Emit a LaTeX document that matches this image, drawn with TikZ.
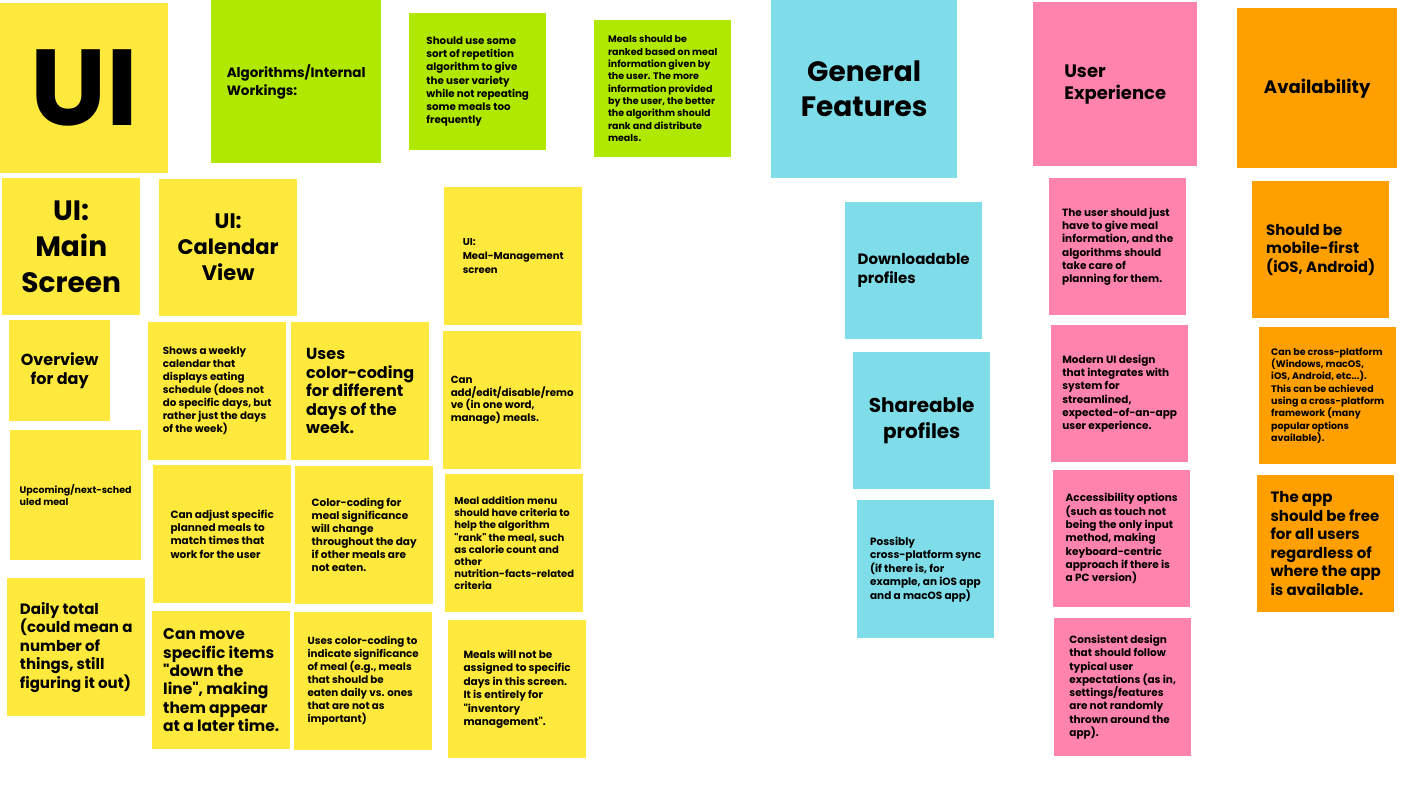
\documentclass[tikz,border=0pt]{standalone}
\usepackage{fontspec}
\setmainfont{Poppins}[Ligatures=TeXOff]
\usepackage{tikz}

\definecolor{stickyyellow}{HTML}{FFE93D}
\definecolor{stickygreen}{HTML}{B0E800}
\definecolor{stickyblue}{HTML}{7EDDE9}
\definecolor{stickypink}{HTML}{FF83AC}
\definecolor{stickyorange}{HTML}{FF9F00}

\tikzset{
  note/.style={rectangle, fill=#1, text=black, inner sep=0pt, anchor=north west, align=left},
  notesize/.style 2 args={minimum width=#1pt, minimum height=#2pt},
  txt/.style 2 args={font=\fontsize{#1}{#2}\selectfont\bfseries},
}

\begin{document}
\begin{tikzpicture}[x=1pt,y=-1pt]

  \useasboundingbox[fill=white] (0,0) rectangle (1422,800);

  % top row
  \node[note=stickyyellow, notesize={168}{170}, txt={108}{108}, align=center] (ui) at (0,3) {UI};
  \node[note=stickygreen, notesize={170}{163}, txt={13.5}{18}] (algo) at (211,0) {Algorithms/Internal\\Workings:};
  \node[note=stickygreen, notesize={137}{137}, txt={10.3}{13.2}] (algo_repeat) at (409,13) {Should use some\\sort of repetition\\algorithm to give\\the user variety\\while not repeating\\some meals too\\frequently};
  \node[note=stickygreen, notesize={137}{137}, txt={9.5}{12.3}] (algo_rank) at (594,20) {Meals should be\\ranked based on meal\\information given by\\the user. The more\\information provided\\by the user, the better\\the algorithm should\\rank and distribute\\meals.};
  \node[note=stickyblue, notesize={186}{178}, txt={28}{35}, align=center] (general) at (771,0) {General\\Features};
  \node[note=stickypink, notesize={164}{164}, txt={18}{22}] (ux) at (1033,2) {User\\Experience};
  \node[note=stickyorange, notesize={160}{160}, txt={18}{22}, align=center] (avail) at (1237,8) {Availability};

  % UI column heads
  \node[note=stickyyellow, notesize={138}{137}, txt={28}{36}, align=center] (ui_main) at (2,178) {UI:\\Main\\Screen};
  \node[note=stickyyellow, notesize={138}{137}, txt={21}{26}, align=center] (ui_cal) at (159,179) {UI:\\Calendar\\View};
  \node[note=stickyyellow, notesize={138}{138}, txt={10}{14}] (ui_meal) at (444,187) {UI:\\Meal-Management\\screen};

  % main screen
  \node[note=stickyyellow, notesize={101}{101}, txt={16}{19}, align=center] (main_overview) at (9,320) {Overview\\for day};
  \node[note=stickyyellow, notesize={131}{130}, txt={9.5}{11.5}] (main_next) at (10,430) {Upcoming/next-sched\\uled meal};
  \node[note=stickyyellow, notesize={138}{138}, txt={15}{18.5}] (main_total) at (7,578) {Daily total\\(could mean a\\number of\\things, still\\figuring it out)};

  % calendar view
  \node[note=stickyyellow, notesize={138}{138}, txt={10.3}{13}] (cal_week) at (148,322) {Shows a weekly\\calendar that\\displays eating\\schedule (does not\\do specific days, but\\rather just the days\\of the week)};
  \node[note=stickyyellow, notesize={138}{138}, txt={16}{18.5}] (cal_days) at (291,322) {Uses\\color-coding\\for different\\days of the\\week.};
  \node[note=stickyyellow, notesize={138}{138}, txt={10.5}{13.2}] (cal_adjust) at (153,465) {Can adjust specific\\planned meals to\\match times that\\work for the user};
  \node[note=stickyyellow, notesize={138}{138}, txt={10.5}{13}] (cal_signif) at (295,466) {Color-coding for\\meal significance\\will change\\throughout the day\\if other meals are\\not eaten.};
  \node[note=stickyyellow, notesize={138}{138}, txt={15.5}{18.3}] (cal_move) at (152,611) {Can move\\specific items\\"down the\\line", making\\them appear\\at a later time.};
  \node[note=stickyyellow, notesize={138}{138}, txt={10.3}{13}] (cal_colour) at (294,612) {Uses color-coding to\\indicate significance\\of meal (e.g., meals\\that should be\\eaten daily vs. ones\\that are not as\\important)};

  % meal management
  \node[note=stickyyellow, notesize={138}{138}, txt={10.3}{12.5}] (meal_manage) at (443,331) {Can\\add/edit/disable/remo\\ve (in one word,\\manage) meals.};
  \node[note=stickyyellow, notesize={138}{138}, txt={10}{12.2}] (meal_add) at (445,474) {Meal addition menu\\should have criteria to\\help the algorithm\\"rank" the meal, such\\as calorie count and\\other\\nutrition-facts-related\\criteria};
  \node[note=stickyyellow, notesize={138}{138}, txt={10.5}{13.5}] (meal_days) at (448,620) {Meals will not be\\assigned to specific\\days in this screen.\\It is entirely for\\"inventory\\management".};

  % general features
  \node[note=stickyblue, notesize={137}{137}, txt={15}{19}] (gen_download) at (845,202) {Downloadable\\profiles};
  \node[note=stickyblue, notesize={137}{137}, txt={20}{26}, align=center] (gen_share) at (853,352) {Shareable\\profiles};
  \node[note=stickyblue, notesize={137}{138}, txt={10.5}{13.5}] (gen_sync) at (857,500) {Possibly\\cross-platform sync\\(if there is, for\\example, an iOS app\\and a macOS app)};

  % user experience
  \node[note=stickypink, notesize={137}{137}, txt={10.5}{13.3}] (ux_simple) at (1049,178) {The user should just\\have to give meal\\information, and the\\algorithms should\\take care of\\planning for them.};
  \node[note=stickypink, notesize={137}{137}, txt={10.5}{13.3}] (ux_modern) at (1051,325) {Modern UI design\\that integrates with\\system for\\streamlined,\\expected-of-an-app\\user experience.};
  \node[note=stickypink, notesize={137}{137}, txt={10.5}{13.3}] (ux_access) at (1053,470) {Accessibility options\\(such as touch not\\being the only input\\method, making\\keyboard-centric\\approach if there is\\a PC version)};
  \node[note=stickypink, notesize={137}{138}, txt={10.5}{13.3}] (ux_consist) at (1054,618) {Consistent design\\that should follow\\typical user\\expectations (as in,\\settings/features\\are not randomly\\thrown around the\\app).};

  % availability
  \node[note=stickyorange, notesize={137}{137}, txt={15}{18.5}] (av_mobile) at (1252,181) {Should be\\mobile-first\\(iOS, Android)};
  \node[note=stickyorange, notesize={137}{137}, txt={9.5}{12.3}] (av_cross) at (1259,327) {Can be cross-platform\\(Windows, macOS,\\iOS, Android, etc...).\\This can be achieved\\using a cross-platform\\framework (many\\popular options\\available).};
  \node[note=stickyorange, notesize={137}{137}, txt={15}{18.5}] (av_free) at (1257,475) {The app\\should be free\\for all users\\regardless of\\where the app\\is available.};

\end{tikzpicture}
\end{document}
